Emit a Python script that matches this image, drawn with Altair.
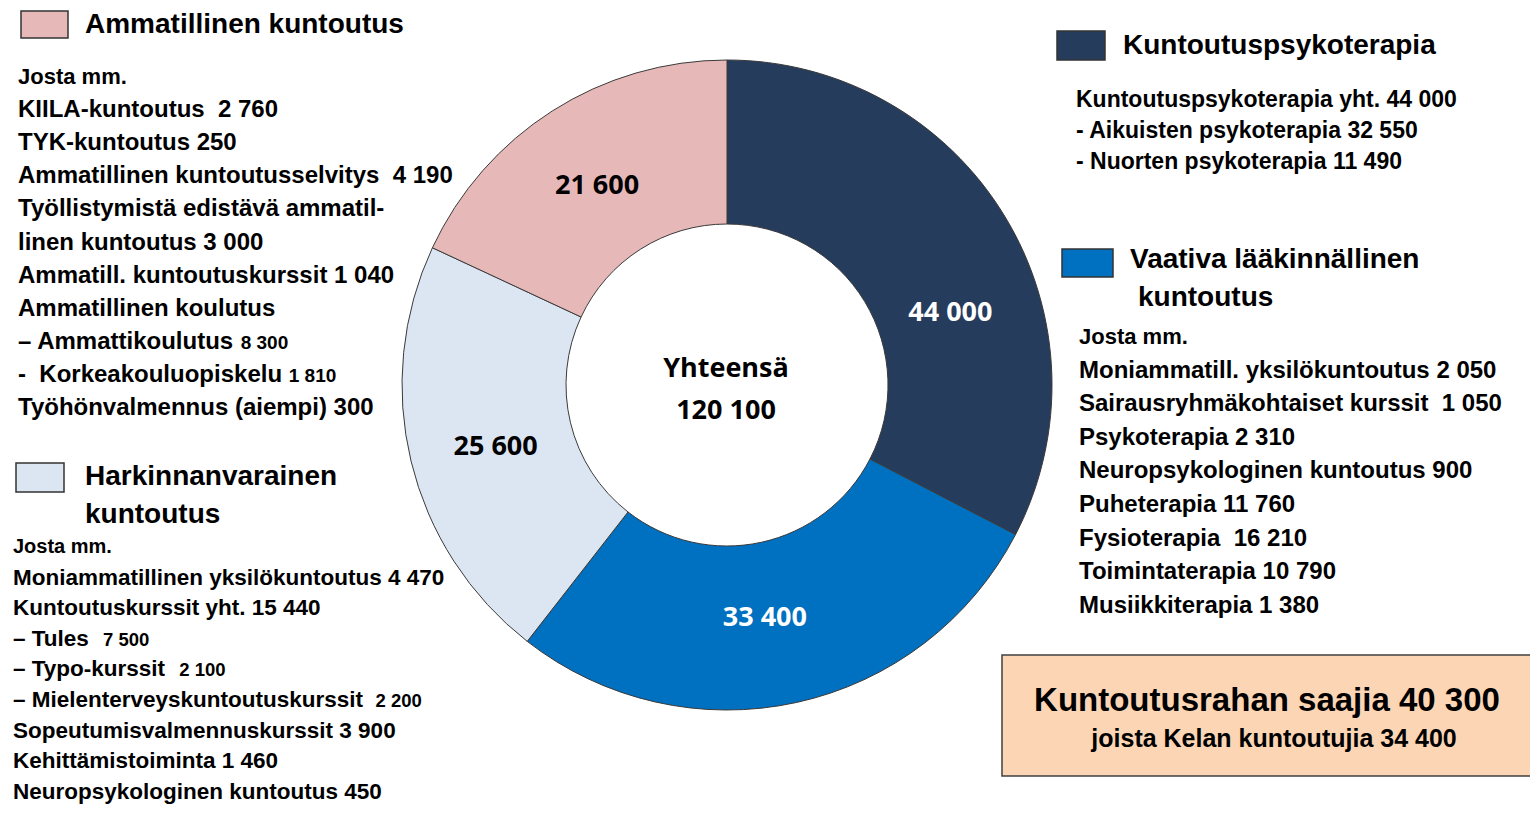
import altair as alt
import pandas as pd

NB = "\u00a0"

# ---------------- data ----------------
categories = ["Kuntoutuspsykoterapia", "Vaativa lääkinnällinen kuntoutus",
              "Harkinnanvarainen kuntoutus", "Ammatillinen kuntoutus"]
slice_labels = ["44 000", "33 400", "25 600", "21 600"]
# slice sizes as drawn in the picture (angles of the ring segments)
slice_sizes = [39000, 33400, 25600, 21600]
slice_colors = ["#263C5C", "#0070C0", "#DCE6F2", "#E6B9B8"]
label_colors = ["white", "white", "black", "black"]

center_text = ["Yhteensä", "120 100"]

# (main text, smaller trailing number)
amm_heading = ["Ammatillinen kuntoutus"]
amm_lines = [("Josta mm.", ""), ("KIILA-kuntoutus " + NB + "2 760", ""), ("TYK-kuntoutus 250", ""),
             ("Ammatillinen kuntoutusselvitys " + NB + "4 190", ""),
             ("Työllistymistä edistävä ammatil-", ""),
             ("linen kuntoutus 3 000", ""), ("Ammatill. kuntoutuskurssit 1 040", ""),
             ("Ammatillinen koulutus", ""), ("– Ammattikoulutus", "8 300"),
             ("- " + NB + "Korkeakouluopiskelu", "1 810"), ("Työhönvalmennus (aiempi) 300", "")]

hark_heading = ["Harkinnanvarainen", "kuntoutus"]
hark_lines = [("Josta mm.", ""), ("Moniammatillinen yksilökuntoutus 4 470", ""),
              ("Kuntoutuskurssit yht. 15 440", ""), ("– Tules", "7 500"),
              ("– Typo-kurssit", "2 100"),
              ("– Mielenterveyskuntoutuskurssit", "2 200"),
              ("Sopeutumisvalmennuskurssit 3 900", ""),
              ("Kehittämistoiminta 1 460", ""), ("Neuropsykologinen kuntoutus 450", "")]

psy_heading = ["Kuntoutuspsykoterapia"]
psy_lines = ["Kuntoutuspsykoterapia yht. 44 000", "- Aikuisten psykoterapia 32 550",
             "- Nuorten psykoterapia 11 490"]

vaat_heading = ["Vaativa lääkinnällinen", "kuntoutus"]
vaat_lines = ["Josta mm.", "Moniammatill. yksilökuntoutus 2 050",
              "Sairausryhmäkohtaiset kurssit " + NB + "1 050", "Psykoterapia 2 310",
              "Neuropsykologinen kuntoutus 900", "Puheterapia 11 760",
              "Fysioterapia " + NB + "16 210", "Toimintaterapia 10 790", "Musiikkiterapia 1 380"]

box_lines = ["Kuntoutusrahan saajia 40 300", "joista Kelan kuntoutujia 34 400"]
box_color = "#FCD5B5"

# ---------------- layout (page pixels minus the 8px margin) ----------------
OFF = 8
CX, CY = 727 - OFF, 385 - OFF
R_OUT, R_IN, R_LAB = 325, 161, 238
FONT = "Liberation Sans"
LABFONT = "Open Sans"

# advance widths (1/1000 em) of Liberation Sans Bold, to place the small numbers
ADV = {" ": 278, NB: 278, "–": 556, "-": 333, "A": 722, "K": 722, "T": 611, "M": 833,
       "a": 556, "e": 556, "i": 278, "k": 556, "l": 278, "m": 889, "n": 611, "o": 611,
       "p": 611, "r": 389, "s": 556, "t": 333, "u": 611, "v": 556, "y": 556}


def text_width(s, fs):
    return sum(ADV.get(c, 556) for c in s) * fs / 1000.0


pie_df = pd.DataFrame({"cat": categories, "size": slice_sizes, "lab": slice_labels,
                       "idx": list(range(len(categories)))})

theta = alt.Theta("size:Q", stack=True)
order = alt.Order("idx:Q")

donut = alt.Chart(pie_df).mark_arc(
    innerRadius=R_IN, outerRadius=R_OUT, stroke="#3a3a3a", strokeWidth=1
).encode(
    theta=theta, order=order,
    color=alt.Color("cat:N", scale=alt.Scale(domain=categories, range=slice_colors), legend=None),
    x=alt.value(CX), y=alt.value(CY),
)

label_offsets = [(20, 52), (-13, 0), (0, 6), (-2, 2)]
label_layers = []
for i, cat in enumerate(categories):
    dx, dy = label_offsets[i]
    label_layers.append(
        alt.Chart(pie_df).transform_calculate(
            t=f"datum.cat == '{cat}' ? datum.lab : ''"
        ).mark_text(radius=R_LAB, font=LABFONT, fontWeight="bold", fontSize=27,
                    color=label_colors[i], dx=dx, dy=dy, align="center", baseline="middle"
        ).encode(theta=theta, order=order, text="t:N",
                 x=alt.value(CX), y=alt.value(CY))
    )


def rows_to_chart(rows, align="left", font=FONT):
    return alt.Chart(pd.DataFrame(rows)).mark_text(
        align=align, baseline="middle", font=font, fontWeight="bold", color="black"
    ).encode(
        x=alt.X("x:Q", scale=None, axis=None),
        y=alt.Y("y:Q", scale=None, axis=None),
        size=alt.Size("fs:Q", scale=None, legend=None),
        text="txt:N",
    )


def text_block(lines, x0, y0, step, sizes, align="left", font=FONT, xs=None, small=None, gap=" "):
    rows = []
    for i, item in enumerate(lines):
        main, tail = item if isinstance(item, tuple) else (item, "")
        fs = sizes[i] if isinstance(sizes, list) else sizes
        x = (xs[i] if xs else x0)
        y = y0 + i * step
        rows.append({"txt": main, "x": x - OFF, "y": y - OFF, "fs": fs})
        if tail:
            tx = x + text_width(main + gap, fs)
            rows.append({"txt": tail, "x": tx - OFF, "y": y + 1 - OFF, "fs": small})
    return rows_to_chart(rows, align, font)


center = text_block(center_text, 726, 369, 42, 27, align="center", font=LABFONT)

amm_h = text_block(amm_heading, 85, 25, 0, 28)
amm_b = text_block(amm_lines, 18, 77, 33.1, [22] + [24] * 10, small=19)

hark_h = text_block(hark_heading, 85, 477, 38, 28)
hark_b = text_block(hark_lines, 13, 547, 30.6, [20] + [22.5] * 8, small=18.5, gap="  ")

psy_h = text_block(psy_heading, 1123, 46, 0, 28)
psy_b = text_block(psy_lines, 1076, 100, 31, 23)

vaat_h = text_block(vaat_heading, 0, 260, 38, 28, xs=[1130, 1138])
vaat_b = text_block(vaat_lines, 1079, 337, 33.6, [22] + [24] * 8)

# legend squares
sq_df = pd.DataFrame({
    "cat": categories,
    "x": [1057 - OFF, 1062 - OFF, 16 - OFF, 21 - OFF],
    "x2": [1105 - OFF, 1113 - OFF, 64 - OFF, 68 - OFF],
    "y": [31 - OFF, 249 - OFF, 463 - OFF, 11 - OFF],
    "y2": [60 - OFF, 277 - OFF, 492 - OFF, 38 - OFF],
})
squares = alt.Chart(sq_df).mark_rect(stroke="#333333", strokeWidth=1.5).encode(
    x=alt.X("x:Q", scale=None, axis=None), x2="x2:Q",
    y=alt.Y("y:Q", scale=None, axis=None), y2="y2:Q",
    color=alt.Color("cat:N", scale=alt.Scale(domain=categories, range=slice_colors), legend=None),
)

box = alt.Chart(pd.DataFrame({"k": [0]})).mark_rect(
    fill=box_color, stroke="#404040", strokeWidth=1.5
).encode(
    x=alt.value(1002 - OFF), x2=alt.value(1542 - OFF),
    y=alt.value(655 - OFF), y2=alt.value(776 - OFF),
)
box_t = text_block(box_lines, 0, 701, 38, [33, 25], align="center", xs=[1267, 1274])

chart = alt.layer(
    donut, *label_layers, center, squares, amm_h, amm_b, hark_h, hark_b,
    psy_h, psy_b, vaat_h, vaat_b, box, box_t
).properties(
    width=1522, height=800, padding=0, autosize=alt.AutoSizeParams(type="none")
).configure(
    background="white", view=alt.ViewConfig(stroke=None)
)

chart.save("out.html", embed_options={"renderer": "svg", "actions": False})
